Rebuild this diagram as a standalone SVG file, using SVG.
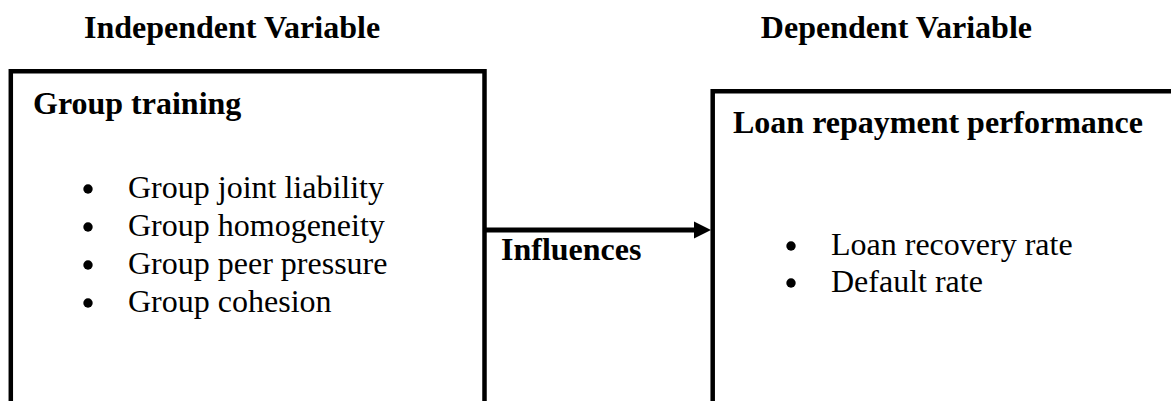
<svg xmlns="http://www.w3.org/2000/svg" width="1171" height="401" viewBox="0 0 1171 401">
<style>
.b{font-family:"Liberation Serif","Times New Roman",serif;font-size:32px;font-weight:bold;fill:#000}
.t{font-family:"Liberation Serif","Times New Roman",serif;font-size:32px;fill:#000}
.box{fill:none;stroke:#000;stroke-width:4.5}
</style>
<rect width="1171" height="401" fill="#fff"/>
<text class="b" x="84" y="38">Independent Variable</text>
<text class="b" x="1032" y="38" text-anchor="end">Dependent Variable</text>
<g id="independent">
<path class="box" d="M10.8,401 V71.3 H484.5 V401"/>
<text class="b" x="33" y="114">Group training</text>
<circle cx="88" cy="189" r="4.7"/>
<text class="t" x="128" y="198">Group joint liability</text>
<circle cx="88" cy="227" r="4.7"/>
<text class="t" x="128" y="236">Group homogeneity</text>
<circle cx="88" cy="265" r="4.7"/>
<text class="t" x="128" y="274">Group peer pressure</text>
<circle cx="88" cy="303" r="4.7"/>
<text class="t" x="128" y="312">Group cohesion</text>
</g>
<g id="dependent">
<path class="box" d="M712.7,401 V91.3 H1171"/>
<text class="b" x="733" y="133">Loan repayment performance</text>
<circle cx="791" cy="246" r="4.7"/>
<text class="t" x="831" y="255">Loan recovery rate</text>
<circle cx="791" cy="283" r="4.7"/>
<text class="t" x="831" y="292">Default rate</text>
</g>
<g id="connectors">
<line x1="486" y1="230" x2="696" y2="230" stroke="#000" stroke-width="5"/>
<polygon points="694,221.5 711,230 694,238.5" fill="#000"/>
<text class="b" x="501" y="260">Influences</text>
</g>
</svg>
